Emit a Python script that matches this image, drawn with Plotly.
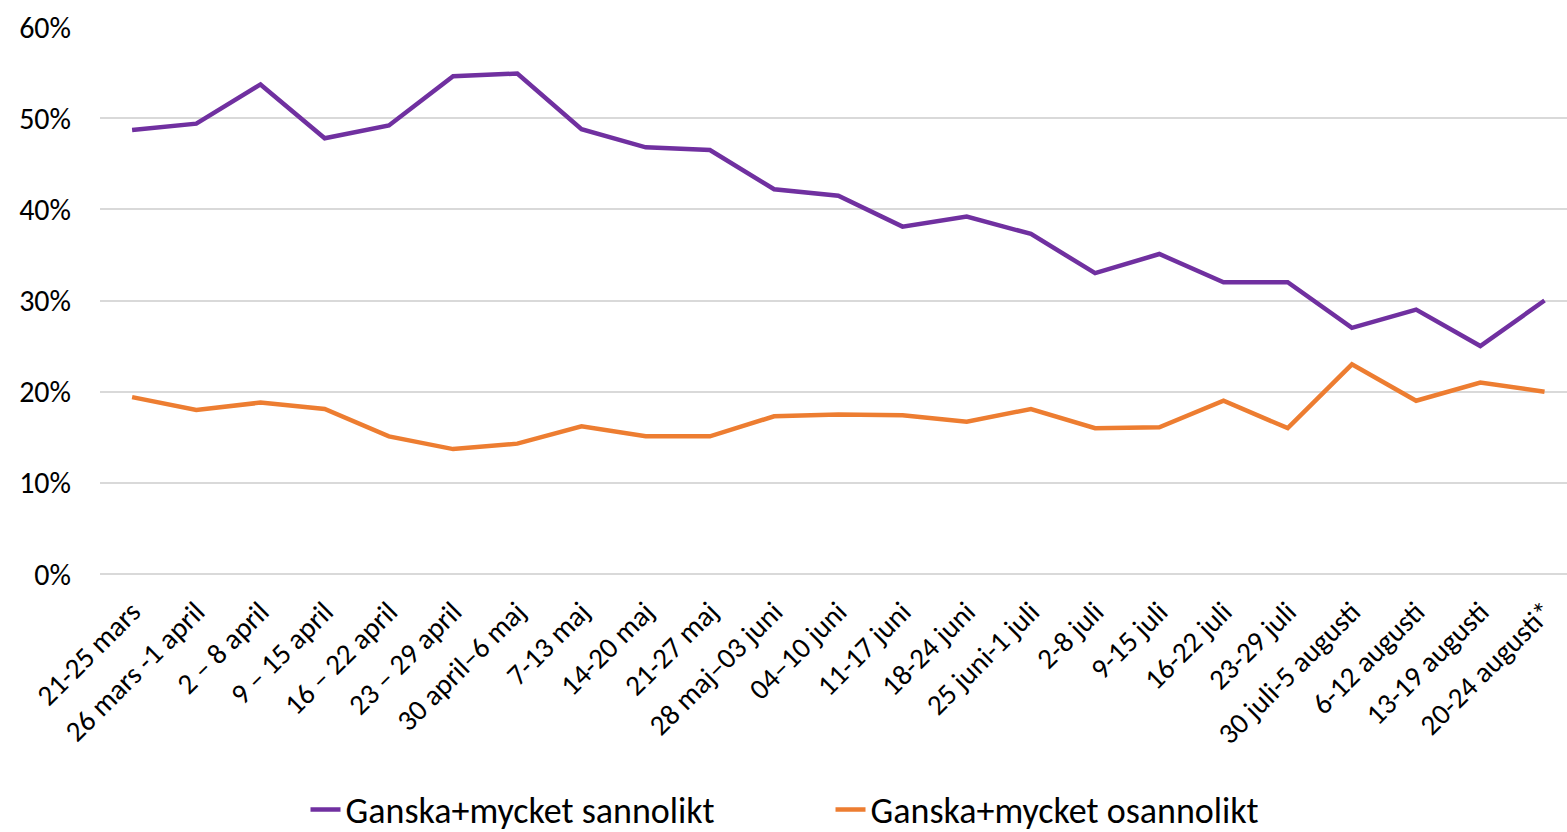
import plotly.graph_objects as go

categories = ["21-25 mars", "26 mars -1 april", "2 – 8 april", "9 – 15 april", "16 – 22 april",
              "23 – 29 april", "30 april–6 maj", "7-13 maj", "14-20 maj", "21-27 maj",
              "28 maj–03 juni", "04–10 juni", "11-17 juni", "18-24 juni", "25 juni-1 juli",
              "2-8 juli", "9-15 juli", "16-22 juli", "23-29 juli", "30 juli-5 augusti",
              "6-12 augusti", "13-19 augusti", "20-24 augusti*"]

sannolikt = [48.7, 49.4, 53.7, 47.8, 49.2, 54.6, 54.9, 48.8, 46.8, 46.5, 42.2, 41.5,
             38.1, 39.2, 37.3, 33.0, 35.1, 32.0, 32.0, 27.0, 29.0, 25.0, 30.0]
osannolikt = [19.4, 18.0, 18.8, 18.1, 15.1, 13.7, 14.3, 16.2, 15.1, 15.1, 17.3, 17.5,
              17.4, 16.7, 18.1, 16.0, 16.1, 19.0, 16.0, 23.0, 19.0, 21.0, 20.0]

FONT = "Carlito, Calibri, Lato, sans-serif"

fig = go.Figure()
fig.add_trace(go.Scatter(x=categories, y=[v / 100 for v in sannolikt], mode="lines",
                         name="Ganska+mycket sannolikt",
                         line=dict(color="#7030A0", width=4.5)))
fig.add_trace(go.Scatter(x=categories, y=[v / 100 for v in osannolikt], mode="lines",
                         name="Ganska+mycket osannolikt",
                         line=dict(color="#ED7D31", width=4.5)))

fig.update_layout(
    width=1567, height=832,
    margin=dict(l=100, r=0, t=27, b=258, autoexpand=False),
    plot_bgcolor="white", paper_bgcolor="white",
    font=dict(family=FONT, color="black", size=28),
    xaxis=dict(type="category", range=[-0.5, 22.35], tickangle=-45, showgrid=False,
               showline=False, ticks="", tickfont=dict(size=29), ticklabelstandoff=14,
               automargin=False),
    yaxis=dict(range=[0, 0.6], dtick=0.1, tickformat=".0%", showgrid=True,
               gridcolor="#D9D9D9", gridwidth=1.5, zeroline=True, zerolinecolor="#D9D9D9",
               zerolinewidth=1.5, ticks="", tickfont=dict(size=30), ticklabelstandoff=28,
               automargin=False),
    legend=dict(orientation="h", x=0.53, xanchor="center", xref="container",
                y=0.027, yanchor="middle", yref="container",
                font=dict(size=36), entrywidth=480, entrywidthmode="pixels"),
    showlegend=True,
)

fig.write_html("out.html", config={"displayModeBar": False},
               post_script="document.body.style.margin='0';document.body.style.overflow='hidden';")
